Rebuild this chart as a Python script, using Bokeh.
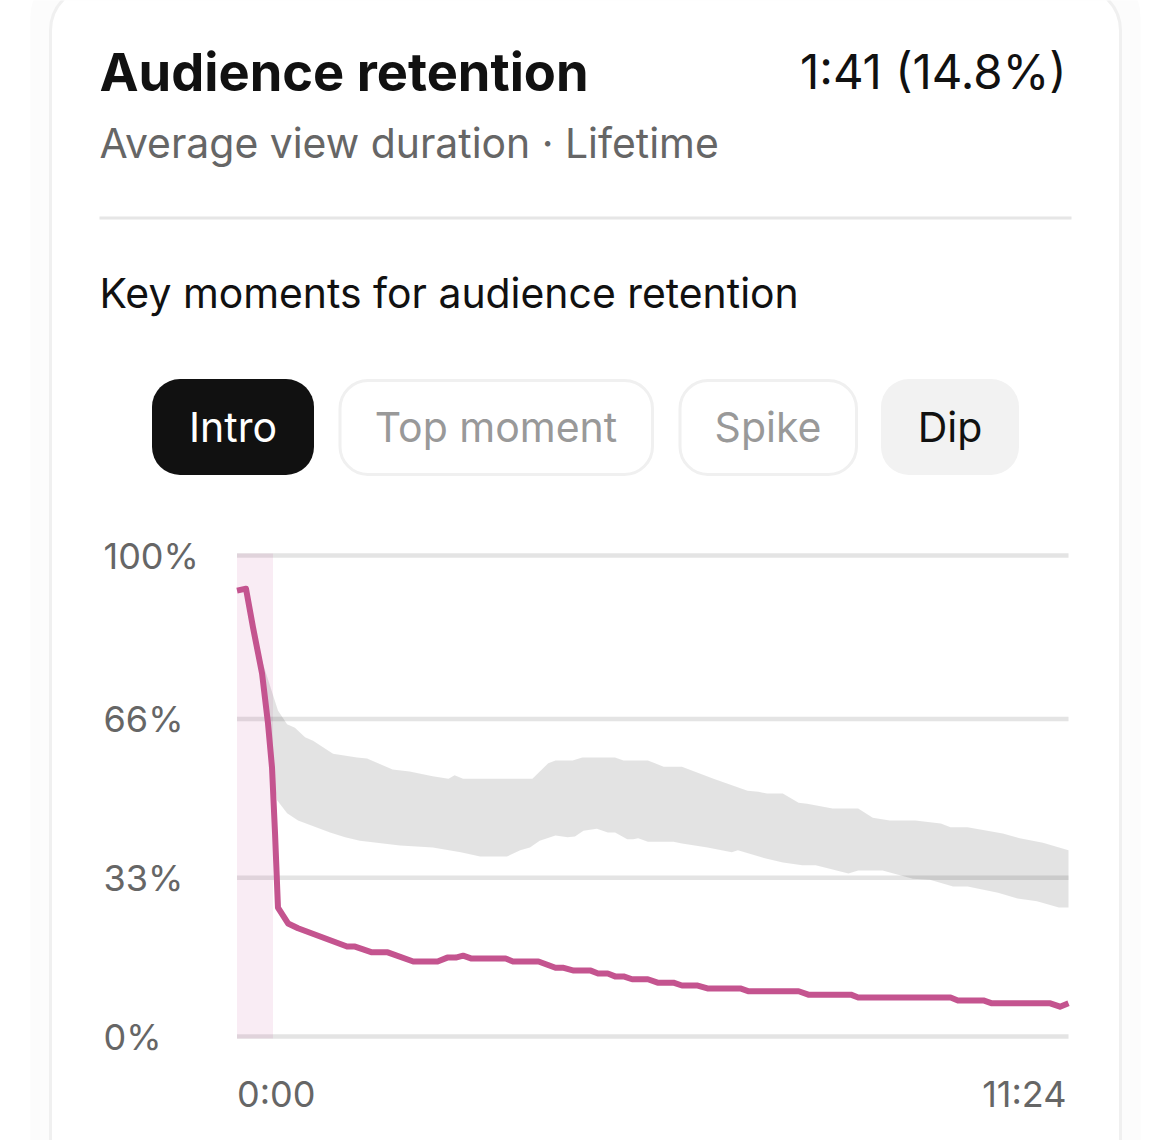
from bokeh.embed import file_html
from bokeh.models import BoxAnnotation, Label, Range1d
from bokeh.plotting import figure
from bokeh.resources import INLINE

# Datos (segundos, % de retencion)
video_t = [0, 7.4, 13.2, 20.6, 25.5, 28.8, 31.3, 33.7, 42, 50.2, 90.5, 97.1, 111, 124, 145, 165, 173, 180, 186,
           193, 221, 227, 248, 262, 268, 277, 291, 297, 305, 311, 318, 325, 338, 346, 359, 366, 379, 387, 414,
           421, 462, 470, 505, 511, 587, 593, 614, 621, 669, 677, 684]
video_pct = [92.7, 93.1, 85.0, 75.5, 65.1, 55.9, 42.2, 26.8, 23.5, 22.5, 18.7, 18.7, 17.5, 17.5, 15.6, 15.6, 16.4,
             16.4, 16.8, 16.2, 16.2, 15.6, 15.6, 14.3, 14.3, 13.7, 13.7, 13.1, 13.1, 12.5, 12.5, 11.9, 11.9, 11.2,
             11.2, 10.6, 10.6, 10.0, 10.0, 9.4, 9.4, 8.7, 8.7, 8.1, 8.1, 7.5, 7.5, 6.9, 6.9, 6.2, 6.9]

upper_t = [0, 4.9, 21.4, 33.7, 41.2, 47.7, 56, 62.6, 79, 98.8, 107, 128, 142, 161, 174, 179, 186, 243, 256, 262,
           276, 284, 311, 318, 338, 351, 366, 392, 420, 429, 436, 449, 462, 469, 490, 511, 523, 537, 558, 579,
           587, 601, 630, 644, 663, 684]
upper_pct = [99.0, 93.8, 77.5, 67.8, 64.9, 64.2, 62.2, 61.5, 58.8, 58.0, 57.8, 55.5, 55.1, 54.1, 53.6, 54.3, 53.6,
             53.6, 56.8, 57.4, 57.4, 58.0, 58.0, 57.4, 57.4, 56.1, 56.1, 53.6, 51.1, 50.9, 50.5, 50.5, 48.6, 48.4,
             47.4, 47.4, 45.5, 44.9, 44.9, 44.3, 43.5, 43.5, 42.2, 41.2, 40.3, 38.7]
lower_t = [0, 4.9, 20.6, 25.5, 28.8, 33, 41.2, 50.2, 76.5, 88.9, 101, 134, 161, 184, 200, 222, 233, 241, 249, 262,
           272, 278, 285, 296, 305, 311, 321, 326, 330, 338, 359, 366, 387, 407, 412, 435, 449, 465, 476, 503,
           511, 531, 556, 570, 589, 601, 626, 642, 658, 676, 684]
lower_pct = [99.0, 93.8, 75.5, 65.1, 55.9, 49.1, 46.4, 44.9, 42.4, 41.4, 40.7, 39.7, 39.3, 38.3, 37.4, 37.4, 38.7,
             39.3, 40.7, 41.8, 41.4, 41.6, 42.8, 43.2, 42.4, 42.4, 41.0, 41.0, 41.2, 40.5, 40.5, 40.1, 39.3, 38.3,
             38.7, 37.0, 36.2, 35.6, 35.6, 33.9, 34.5, 34.5, 32.8, 32.6, 31.2, 31.2, 29.9, 28.7, 28.1, 26.8, 26.8]

intro_t = [0, 29.6]
y_ticks = [0, 33, 66, 100]
y_labels = ["0%", "33%", "66%", "100%"]
x_ticks = [0, 684]
x_labels = ["0:00", "11:24"]
tabs = ["Intro", "Top moment", "Spike", "Dip"]

FONT = "Inter"
W, H = 1170, 1140
X0, X1 = 236.5, 1068  # pixeles de 0:00 y 11:24
Y0, Y100 = 1036, 555  # pixeles de 0% y 100%
PX_T = (X1 - X0) / x_ticks[-1]
PX_PCT = (Y0 - Y100) / 100

# El frame ocupa toda la pagina porque los Label y las cajas se recortan al frame
p = figure(width=W, height=H, output_backend="svg", toolbar_location=None,
           x_range=Range1d(-X0 / PX_T, (W - X0) / PX_T), y_range=Range1d(-(H - Y0) / PX_PCT, Y0 / PX_PCT),
           x_axis_type=None, y_axis_type=None,
           min_border_left=0, min_border_right=0, min_border_top=0, min_border_bottom=0)
p.outline_line_color = None


def caja(left, right, top, bottom, fill=None, line=None, line_width=0, radius=0):
    b = BoxAnnotation(left=left, right=right, top=H - top, bottom=H - bottom,
                      left_units="screen", right_units="screen", top_units="screen", bottom_units="screen",
                      fill_color=fill, fill_alpha=1 if fill else 0,
                      line_color=line, line_alpha=1 if line else 0, line_width=line_width,
                      border_radius=radius, level="image")
    p.add_layout(b)


def texto(txt, x, y, size, color, align="left", style="normal"):
    p.add_layout(Label(x=x, y=H - y, x_units="screen", y_units="screen", text=txt,
                       text_font=FONT, text_font_size=f"{size}px", text_color=color,
                       text_align=align, text_baseline="middle", text_font_style=style))


# Tarjeta
caja(30, 1140, -34, 1300, fill="#fcfcfc", radius=50)
caja(50, 1120, -14, 1300, fill="#ffffff", line="#f0f0f0", line_width=3, radius=44)

# Cabecera
texto("Audience retention", 99, 71, 52.4, "#111111", style="bold")
texto("1:41 (14.8%)", 1066, 71, 47.4, "#111111", align="right")
texto("Average view duration · Lifetime", 99, 142, 40.9, "#666666")
caja(99, 1071, 216, 219, fill="#e6e6e6")
texto("Key moments for audience retention", 99, 292, 40.9, "#111111")

# Botones
caja(151.5, 313.5, 378.5, 474.5, fill="#111111", radius=28)
texto(tabs[0], 232.5, 426, 41, "#ffffff", align="center")
caja(339.5, 652, 380, 474, fill="#ffffff", line="#f0f0f0", line_width=3, radius=28)
texto(tabs[1], 495.5, 426, 41, "#999999", align="center")
caja(679.5, 856, 380, 474, fill="#ffffff", line="#f0f0f0", line_width=3, radius=28)
texto(tabs[2], 767.5, 426, 41, "#999999", align="center")
caja(880.5, 1018.5, 378.5, 474.5, fill="#f2f2f2", radius=28)
texto(tabs[3], 949.5, 426, 41, "#111111", align="center")

# Grafico
p.segment(x0=x_ticks[0], x1=x_ticks[-1], y0=y_ticks, y1=y_ticks, line_color="#e4e4e4", line_width=4.5)
p.quad(left=intro_t[0], right=intro_t[1], bottom=-0.4, top=100.4, fill_color="#c2478f", fill_alpha=0.10, line_color=None)
p.patch(upper_t + lower_t[::-1], upper_pct + lower_pct[::-1], fill_color="#000000", fill_alpha=0.11, line_color=None)
p.line(video_t, video_pct, line_color="#c4548f", line_width=6, line_join="round")

# Etiquetas de los ejes sobre la escala
for tick, label in zip(y_ticks, y_labels):
    p.add_layout(Label(x=103, y=tick, x_units="screen", y_units="data", text=label,
                       text_font=FONT, text_font_size="36px", text_color="#666666", text_baseline="middle"))
for tick, label, align, dx in zip(x_ticks, x_labels, ["left", "right"], [0, -2]):
    p.add_layout(Label(x=tick, y=H - 1093, x_units="data", y_units="screen", x_offset=dx, text=label,
                       text_font=FONT, text_font_size="36px", text_color="#666666", text_align=align,
                       text_baseline="middle"))

open("out.html", "w").write(file_html(p, INLINE))
